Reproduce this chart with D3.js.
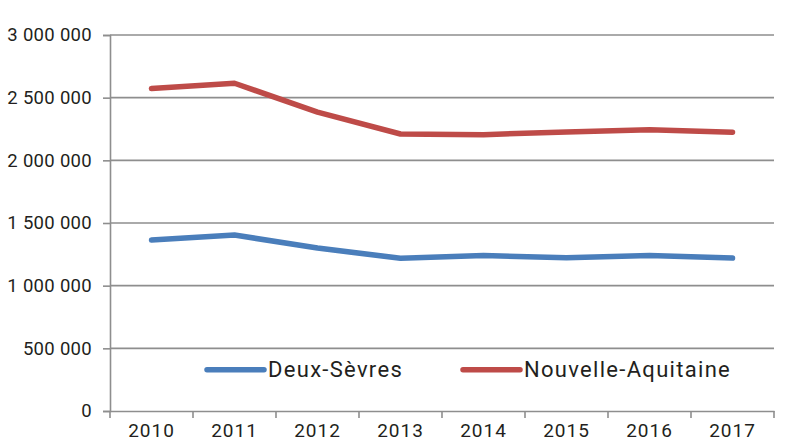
<!DOCTYPE html>
<meta charset="utf-8">
<style>
html, body {
  margin: 0;
  background: #fff;
}

.chart text {
  font-family: Roboto, "Noto Sans", sans-serif;
  fill: #231f20;
}

.chart .grid line {
  stroke: #8e8e8e;
  stroke-width: 1.6;
}

.chart .domain,
.chart .tick line {
  stroke: #8e8e8e;
  stroke-width: 1.6;
}

.chart .series {
  fill: none;
  stroke-width: 5.5;
  stroke-linecap: round;
  stroke-linejoin: round;
}
</style>
<body>
<svg class="chart" width="788" height="441"></svg>

<script src="https://d3js.org/d3.v7.min.js"></script>
<script type="text/javascript">
"use strict";

var years = ["2010", "2011", "2012", "2013", "2014", "2015", "2016", "2017"];
var deuxSevres = [1364000, 1404000, 1300000, 1218000, 1240000, 1222000, 1240000, 1220000];
var nouvelleAquitaine = [2573000, 2615000, 2385000, 2210000, 2205000, 2226000, 2245000, 2225000];
var yTicks = [0, 500000, 1000000, 1500000, 2000000, 2500000, 3000000];
var seriesNames = ["Deux-Sèvres", "Nouvelle-Aquitaine"];
var seriesColors = ["#4a7ebb", "#be4b48"];

var margin = { top: 35, right: 14, bottom: 30, left: 110 },
  width = 788 - margin.left - margin.right,
  height = 441 - margin.top - margin.bottom;

var svg = d3.select(".chart");
var g = svg.append("g")
  .attr("transform", "translate(" + margin.left + "," + margin.top + ")");

var x = d3.scaleBand().domain(years).range([0, width]);
var y = d3.scaleLinear().domain([0, 3000000]).range([height, 0]);

var fmt = function (d) {
  return d3.format(",")(d).replace(/,/g, " ");
};

// horizontal gridlines
g.append("g").attr("class", "grid")
  .selectAll("line")
  .data(yTicks.slice(1))
  .enter().append("line")
  .attr("x1", 0)
  .attr("x2", width)
  .attr("y1", function (d) { return y(d); })
  .attr("y2", function (d) { return y(d); });

// y axis
var yAxis = g.append("g")
  .call(d3.axisLeft(y).tickValues(yTicks).tickFormat(fmt).tickSize(7).tickPadding(11));
yAxis.selectAll("text")
  .style("font-size", "18.5px")
  .style("letter-spacing", "0.3px");

// x axis with ticks on band boundaries
var xAxis = g.append("g")
  .attr("transform", "translate(0," + height + ")")
  .call(d3.axisBottom(x).tickSize(0).tickPadding(13));
xAxis.selectAll("text")
  .style("font-size", "19px")
  .style("letter-spacing", "1px");
xAxis.selectAll(".tick-sep")
  .data(years.concat(["end"]))
  .enter().append("line")
  .attr("class", "tick-sep")
  .attr("stroke", "#8e8e8e")
  .attr("stroke-width", 1.6)
  .attr("x1", function (d, i) { return i * x.bandwidth(); })
  .attr("x2", function (d, i) { return i * x.bandwidth(); })
  .attr("y1", 0)
  .attr("y2", 7);

var line = d3.line()
  .x(function (d, i) { return x(years[i]) + x.bandwidth() / 2; })
  .y(function (d) { return y(d); });

[deuxSevres, nouvelleAquitaine].forEach(function (values, i) {
  g.append("path")
    .attr("class", "series")
    .attr("stroke", seriesColors[i])
    .attr("d", line(values));
});

// legend
var legendX = [97, 353];
var legend = g.append("g").attr("transform", "translate(0," + y(330000) + ")");
seriesNames.forEach(function (name, i) {
  legend.append("line")
    .attr("x1", legendX[i])
    .attr("x2", legendX[i] + 57)
    .attr("stroke", seriesColors[i])
    .attr("stroke-width", 5.5)
    .attr("stroke-linecap", "round");
  legend.append("text")
    .attr("x", legendX[i] + 61)
    .attr("dy", "0.35em")
    .style("font-size", "22px")
    .style("letter-spacing", "1.3px")
    .text(name);
});
</script>
</body>
